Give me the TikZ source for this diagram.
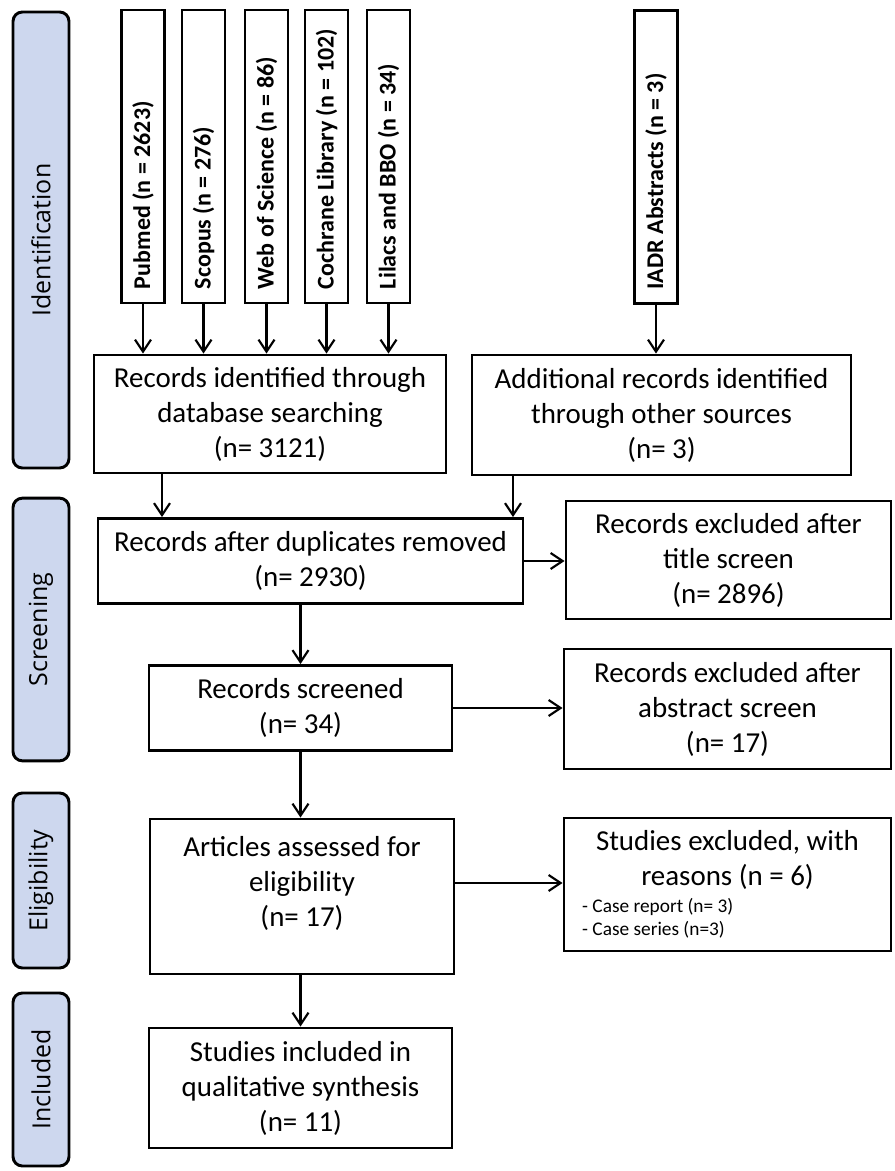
\documentclass[tikz,border=0pt]{standalone}
\usepackage{fontspec}
\setmainfont{Carlito}
\newfontfamily\phasefont{Open Sans}
\usetikzlibrary{arrows.meta}
\definecolor{phaseblue}{RGB}{205,215,238}
\tikzset{
  box/.style={draw, line width=2.2pt, align=center, inner sep=0pt, font=\fontsize{21.7}{26.25}\selectfont},
  srcbox/.style={draw, line width=2.2pt, rotate=90, minimum height=32.25pt, text width=198.75pt, inner xsep=10.5pt, inner ysep=0pt, align=flush left, font=\bfseries\fontsize{18}{21}\selectfont},
  phase/.style={draw, line width=2.2pt, rounded corners=7pt, fill=phaseblue, rotate=90, minimum height=42pt, inner sep=0pt, font=\phasefont\fontsize{18.7}{22}\selectfont},
  arr/.style={line width=1.6pt, -{Straight Barb[length=9pt,width=12pt]}}
}
\begin{document}
\begin{tikzpicture}[x=0.75pt,y=0.75pt,yscale=-1,xscale=1]
\useasboundingbox (0,0) rectangle (894,1171);

% Phase labels
\node[phase, minimum width=342pt] (ident) at (41,240) {Identification};
\node[phase, minimum width=197pt] (screen) at (41,629.5) {Screening};
\node[phase, minimum width=131.25pt] (elig) at (41,880.5) {Eligibility};
\node[phase, minimum width=129.75pt] (incl) at (41,1079.5) {Included};

% Sources
\node[srcbox] (pubmed) at (143,156.5) {Pubmed (n = 2623)};
\node[srcbox] (scopus) at (203.5,156.5) {Scopus (n = 276)};
\node[srcbox] (wos) at (266.5,156.5) {Web of Science (n = 86)};
\node[srcbox] (cochrane) at (326.5,156.5) {Cochrane Library (n = 102)};
\node[srcbox] (lilacs) at (388.5,156.5) {Lilacs and BBO (n = 34)};
\node[srcbox] (iadr) at (656,157) {IADR Abstracts (n = 3)};

% Boxes
\node[box, minimum width=264pt, minimum height=88.5pt] (db) at (270,414) {Records identified through\\database searching\\(n= 3121)};
\node[box, minimum width=284.25pt, minimum height=90pt] (add) at (661.5,415) {Additional records identified\\through other sources\\(n= 3)};
\node[box, minimum width=318.75pt, minimum height=63.75pt] (dup) at (310.5,561) {Records after duplicates removed\\(n= 2930)};
\node[box, minimum width=243.75pt, minimum height=88.5pt] (title) at (728.5,560) {Records excluded after\\title screen\\(n= 2896)};
\node[box, minimum width=227.25pt, minimum height=63.75pt] (screened) at (300.5,708) {Records screened\\(n= 34)};
\node[box, minimum width=245.25pt, minimum height=90pt] (abstract) at (727.5,709) {Records excluded after\\abstract screen\\(n= 17)};
\node[box, minimum width=228pt, minimum height=116.25pt] (art) at (302,896.5) {};
\node[box, draw=none] (arttxt) at (302,883) {Articles assessed for\\eligibility\\(n= 17)};
\node[box, minimum width=245.25pt, minimum height=99.75pt] (excl) at (727.5,884.5) {Studies excluded, with\\reasons (n = 6)\\[-6pt]\parbox[t]{218pt}{\fontsize{14.5}{17.5}\selectfont - Case report (n= 3)\\- Case series (n=3)}};
\node[box, minimum width=227.25pt, minimum height=90pt] (synth) at (300.5,1088) {Studies included in\\qualitative synthesis\\(n= 11)};

% Connectors
\foreach \src in {pubmed,scopus,wos,cochrane,lilacs}
  \draw[arr] (\src.west) -- (\src.west |- db.north);
\draw[arr] (iadr.west) -- (iadr.west |- add.north);
\coordinate (dbout) at (162,0);
\coordinate (addout) at (513,0);
\coordinate (artout) at (0,883);
\draw[arr] (db.south -| dbout) -- (dup.north -| dbout);
\draw[arr] (add.south -| addout) -- (dup.north -| addout);
\draw[arr] (dup.east) -- (dup.east -| title.west);
\draw[arr] (screened.north |- dup.south) -- (screened.north);
\draw[arr] (screened.east) -- (screened.east -| abstract.west);
\draw[arr] (screened.south) -- (screened.south |- art.north);
\draw[arr] (art.east |- artout) -- (excl.west |- artout);
\draw[arr] (synth.north |- art.south) -- (synth.north);

\end{tikzpicture}
\end{document}
